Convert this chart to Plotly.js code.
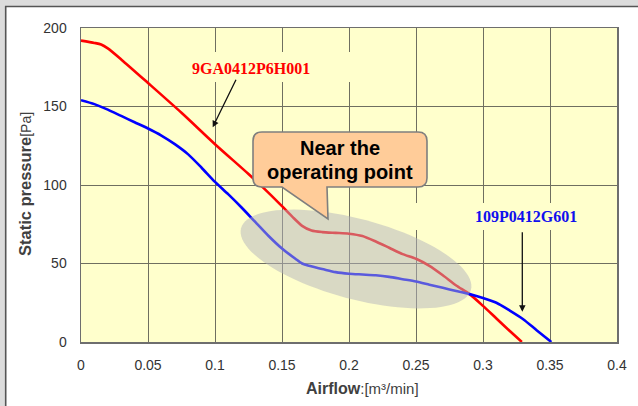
<!DOCTYPE html>
<html>
<head>
<meta charset="utf-8">
<script src="https://cdn.plot.ly/plotly-3.0.1.min.js"></script>
<style>html,body{margin:0;padding:0;background:#fff;}#chart{width:638px;height:406px;}</style>
</head>
<body>
<div id="chart"></div>
<script>
// ---- data ----
const xTickVals = [0, 0.05, 0.1, 0.15, 0.2, 0.25, 0.3, 0.35, 0.4];
const xTickText = ['0', '0.05', '0.1', '0.15', '0.2', '0.25', '0.3', '0.35', '0.4'];
const yTickVals = [0, 50, 100, 150, 200];
const yTickText = ['0', '50', '100', '150', '200'];

const redName = '9GA0412P6H001';
const redX = [0, 0.01, 0.015, 0.02, 0.03, 0.05, 0.075, 0.1, 0.125, 0.14, 0.15, 0.158, 0.165, 0.172, 0.18, 0.19, 0.2, 0.21, 0.22, 0.23, 0.24, 0.25, 0.26, 0.27, 0.28, 0.29, 0.30, 0.31, 0.32, 0.329];
const redY = [192, 190.5, 189.5, 187, 180, 165, 146, 126, 107, 95, 86.5, 79.5, 74, 71, 70, 69.5, 69, 67.5, 64, 60, 56, 53, 48.5, 42.5, 36, 30.5, 23, 15, 7, 0];

const blueName = '109P0412G601';
const blueX = [0, 0.01, 0.02, 0.03, 0.04, 0.05, 0.06, 0.07, 0.08, 0.09, 0.1, 0.11, 0.12, 0.13, 0.14, 0.15, 0.16, 0.165, 0.17, 0.18, 0.19, 0.2, 0.21, 0.22, 0.23, 0.24, 0.25, 0.26, 0.27, 0.28, 0.29, 0.3, 0.31, 0.32, 0.33, 0.34, 0.351];
const blueY = [154, 151.5, 148, 144, 140, 136, 131.5, 126, 119.5, 111, 102, 94, 85.5, 76.5, 67.5, 59.5, 53, 50, 48.5, 46.5, 44.5, 43.5, 43, 42.5, 41.5, 40, 38.5, 36.5, 34.5, 32.5, 30.5, 28, 25, 20, 14.5, 7.5, 0];

const calloutLines = ['Near the', 'operating point'];
const yTitleMain = 'Static pressure', yTitleUnit = '[Pa]';
const xTitleMain = 'Airflow', xTitleUnit = ':[m³/min]';

// ---- layout geometry ----
const W = 638, H = 406, L = 81, R = 21, T = 28, B = 64;
const PW = W - L - R, PH = H - T - B;
const XR = [0, 0.4], YR = [0, 200];
function PX(px) { return (px - L) / PW; }
function PY(py) { return (H - B - py) / PH; }
function DX(px) { return XR[0] + (px - L) / PW * (XR[1] - XR[0]); }
function DY(py) { return YR[0] + (H - B - py) / PH * (YR[1] - YR[0]); }
function P(px, py) { return PX(px).toFixed(5) + ',' + PY(py).toFixed(5); }

// rotated ellipse (pixel space) -> paper path
function ellipsePath(cx, cy, a, b, deg) {
  const th = deg * Math.PI / 180; let d = '';
  for (let i = 0; i <= 96; i++) {
    const t = i / 96 * 2 * Math.PI;
    const ex = a * Math.cos(t), ey = b * Math.sin(t);
    const px = cx + ex * Math.cos(th) - ey * Math.sin(th);
    const py = cy + ex * Math.sin(th) + ey * Math.cos(th);
    d += (i === 0 ? 'M' : 'L') + P(px, py);
  }
  return d + 'Z';
}
// rounded callout box with pointer (pixel space) -> paper path
function calloutPath(x0, y0, x1, y1, r, pL, pR, tx, ty) {
  return 'M' + P(x0 + r, y0) + 'L' + P(x1 - r, y0) + 'Q' + P(x1, y0) + ' ' + P(x1, y0 + r) +
    'L' + P(x1, y1 - r) + 'Q' + P(x1, y1) + ' ' + P(x1 - r, y1) +
    'L' + P(pR, y1) + 'L' + P(tx, ty) + 'L' + P(pL, y1) +
    'L' + P(x0 + r, y1) + 'Q' + P(x0, y1) + ' ' + P(x0, y1 - r) +
    'L' + P(x0, y0 + r) + 'Q' + P(x0, y0) + ' ' + P(x0 + r, y0) + 'Z';
}

const traces = [
  { x: redX, y: redY, name: redName, type: 'scatter', mode: 'lines', line: { color: '#ff0000', width: 2.6, shape: 'spline', smoothing: 0.7 }, hoverinfo: 'skip' },
  { x: blueX, y: blueY, name: blueName, type: 'scatter', mode: 'lines', line: { color: '#0000ff', width: 2.6, shape: 'spline', smoothing: 0.7 }, hoverinfo: 'skip' }
];

const shapes = [
  // outer frame
  { type: 'rect', xref: 'paper', yref: 'paper', x0: PX(-2), x1: PX(641), y0: PY(-2), y1: PY(6), fillcolor: '#dcdcdc', line: { width: 0 } },
  { type: 'rect', xref: 'paper', yref: 'paper', x0: PX(-2), x1: PX(5), y0: PY(-2), y1: PY(409), fillcolor: '#dcdcdc', line: { width: 0 } },
  { type: 'line', xref: 'paper', yref: 'paper', x0: PX(5), x1: PX(641), y0: PY(6.5), y1: PY(6.5), line: { color: '#555', width: 1.6 } },
  { type: 'line', xref: 'paper', yref: 'paper', x0: PX(5.7), x1: PX(5.7), y0: PY(6), y1: PY(409), line: { color: '#555', width: 1.6 } },
  // label backgrounds breaking the grid
  { type: 'rect', xref: 'x', yref: 'y', layer: 'between', x0: DX(152), x1: DX(356), y0: DY(52), y1: DY(82), fillcolor: '#ffffcc', line: { width: 0 } },
  { type: 'rect', xref: 'x', yref: 'y', layer: 'between', x0: DX(400), x1: DX(592), y0: DY(203), y1: DY(230), fillcolor: '#ffffcc', line: { width: 0 } },
  // operating-point ellipse
  { type: 'path', xref: 'paper', yref: 'paper', path: ellipsePath(356, 259, 119, 40, 15), fillcolor: '#b4b4bc', opacity: 0.5, line: { width: 0 } },
  // callout
  { type: 'path', xref: 'paper', yref: 'paper', path: calloutPath(253, 132, 427, 187, 9, 282, 327, 328, 219), fillcolor: '#ffcc99', line: { color: '#7f7f7f', width: 1.6 } }
];

const annotations = [
  { xref: 'paper', yref: 'paper', x: PX(251), y: PY(68), text: '<b>' + redName + '</b>', showarrow: false, xanchor: 'center', yanchor: 'middle', font: { family: 'Liberation Serif, Times New Roman, serif', size: 16, color: '#ff0000' } },
  { xref: 'paper', yref: 'paper', x: PX(526), y: PY(216.5), text: '<b>' + blueName + '</b>', showarrow: false, xanchor: 'center', yanchor: 'middle', font: { family: 'Liberation Serif, Times New Roman, serif', size: 16, color: '#1010ee' } },
  { xref: 'paper', yref: 'paper', x: PX(212.7), y: PY(127.3), text: '', showarrow: true, ax: 24, ay: -49, arrowhead: 2, arrowsize: 1, arrowwidth: 1.3, arrowcolor: '#111' },
  { xref: 'paper', yref: 'paper', x: PX(522.3), y: PY(311.7), text: '', showarrow: true, ax: 0, ay: -81, arrowhead: 2, arrowsize: 1, arrowwidth: 1.3, arrowcolor: '#111' },
  { xref: 'paper', yref: 'paper', x: PX(340), y: PY(148), text: '<b>' + calloutLines[0] + '</b>', showarrow: false, xanchor: 'center', yanchor: 'middle', font: { family: 'Liberation Sans, Arial, sans-serif', size: 20, color: '#000' } },
  { xref: 'paper', yref: 'paper', x: PX(340), y: PY(172), text: '<b>' + calloutLines[1] + '</b>', showarrow: false, xanchor: 'center', yanchor: 'middle', font: { family: 'Liberation Sans, Arial, sans-serif', size: 20, color: '#000' } },
  // axis titles
  { xref: 'paper', yref: 'paper', x: PX(25), y: PY(184), textangle: -90, text: '<b>' + yTitleMain + '</b><span style="font-size:14px">' + yTitleUnit + '</span>', showarrow: false, xanchor: 'center', yanchor: 'middle', font: { family: 'Liberation Sans, Arial, sans-serif', size: 16.5, color: '#404040' } },
  { xref: 'paper', yref: 'paper', x: PX(362), y: PY(388), text: '<b>' + xTitleMain + '</b><span style="font-size:15px">' + xTitleUnit + '</span>', showarrow: false, xanchor: 'center', yanchor: 'middle', font: { family: 'Liberation Sans, Arial, sans-serif', size: 16, color: '#404040' } }
];

const axisCommon = {
  showgrid: true, gridcolor: '#6f6f60', gridwidth: 1, zeroline: false,
  showline: true, linecolor: '#6e6e6e', linewidth: 1.5, mirror: true,
  ticks: '', tickfont: { family: 'Liberation Sans, Arial, sans-serif', size: 14, color: '#333' },
  fixedrange: true
};

const layout = {
  width: W, height: H, autosize: false,
  margin: { l: L, r: R, t: T, b: B, pad: 0 },
  paper_bgcolor: '#ffffff', plot_bgcolor: '#ffffcc',
  showlegend: false,
  xaxis: Object.assign({}, axisCommon, { range: XR, tickmode: 'array', tickvals: xTickVals, ticktext: xTickText, ticklabelstandoff: 10 }),
  yaxis: Object.assign({}, axisCommon, { range: YR, tickmode: 'array', tickvals: yTickVals, ticktext: yTickText, ticklabelstandoff: 10 }),
  shapes: shapes,
  annotations: annotations
};

Plotly.newPlot('chart', traces, layout, { displayModeBar: false, staticPlot: true });
</script>
</body>
</html>
